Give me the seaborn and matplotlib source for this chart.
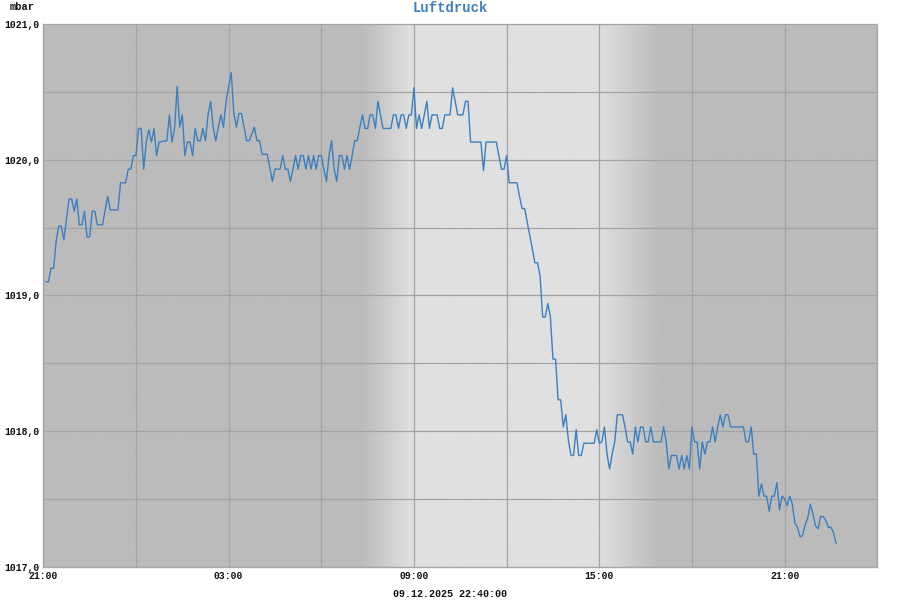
import numpy as np
import pandas as pd
import matplotlib
matplotlib.use("Agg")
import matplotlib.pyplot as plt
import matplotlib.dates as mdates
from matplotlib.ticker import FuncFormatter, MultipleLocator
import seaborn as sns

sns.set_theme(style="white")
plt.rcParams["font.family"] = ["Liberation Mono", "DejaVu Sans Mono"]

# ---------------- data ----------------
title = "Luftdruck"
unit = "mbar"
stamp = "09.12.2025 22:40:00"
start = "2025-12-08 21:00"
end = "2025-12-10 00:00"

# 5-minute slots after 21:00 (vertices)
slot = [1, 2, 3, 4, 5, 6, 7, 8, 10, 11, 12, 13, 14, 15, 16, 17, 18, 19, 20, 21, 23, 25, 26, 29, 30,
        32, 33, 34, 35, 36, 37, 38, 39, 40, 41, 42, 43, 44, 45, 48, 49, 50, 51, 52, 53, 54, 55, 56,
        57, 58, 59, 60,
        61, 62, 63, 64, 65, 66, 67, 68, 69, 70, 71, 72, 73, 74, 75, 76, 77, 79, 80, 82, 83, 84, 85,
        87, 89, 90, 92, 93, 94, 95, 96, 97, 98, 99, 100, 101, 102, 103, 104, 105, 106, 107, 108,
        109, 110, 111, 112, 113, 114, 115, 116, 117, 118, 119, 120, 121, 122, 123,
        124, 125, 126, 127, 128, 129, 130, 131, 132, 135, 136, 137, 138, 139, 140, 141, 142, 143,
        144, 145, 146, 147, 148, 149, 150, 151, 153, 154, 155, 156, 158, 159, 160, 161, 163, 164,
        165, 166, 170, 171, 172, 176, 177, 178, 179, 180, 181, 184,
        185, 186, 187, 188, 189, 190, 191, 192, 193, 194, 195, 196, 197, 198, 199, 200, 201, 202,
        203, 204, 205, 206, 207, 208, 209, 210, 214, 215, 216,
        217, 218, 219, 220, 221, 222, 223, 225, 226, 227, 228, 229, 230, 231, 232, 233, 234, 235,
        236, 237, 240, 241, 242, 243, 244, 246, 247, 248, 249, 250, 251, 252, 253, 254, 255, 256,
        257, 258, 259, 260, 261, 262, 263, 264, 265, 266,
        267, 272, 273, 274, 275, 276, 277, 278, 279, 280, 281, 282, 283, 284, 285, 286, 287, 288,
        289, 290, 291, 292, 293, 294, 295, 296, 297, 298, 299, 300, 301, 302, 303, 304, 305, 306,
        307, 308]

mbar = [1019.10, 1019.10, 1019.20, 1019.20, 1019.40, 1019.51, 1019.51, 1019.41, 1019.71, 1019.71,
        1019.62, 1019.71, 1019.52, 1019.52, 1019.62, 1019.43, 1019.43, 1019.62, 1019.62, 1019.52,
        1019.52, 1019.73, 1019.63, 1019.63, 1019.83,
        1019.83, 1019.93, 1019.93, 1020.03, 1020.03, 1020.23, 1020.23, 1019.93, 1020.13, 1020.22,
        1020.13, 1020.23, 1020.03, 1020.13, 1020.14, 1020.33, 1020.13, 1020.23, 1020.54, 1020.24,
        1020.33, 1020.03, 1020.13,
        1020.13, 1020.03, 1020.23, 1020.14,
        1020.14, 1020.23, 1020.14, 1020.33, 1020.43, 1020.24, 1020.14, 1020.24, 1020.33, 1020.24,
        1020.43, 1020.54, 1020.64, 1020.35, 1020.24, 1020.34, 1020.34, 1020.14, 1020.14, 1020.24,
        1020.14, 1020.14, 1020.04,
        1020.04, 1019.84, 1019.93, 1019.93, 1020.03, 1019.93, 1019.93, 1019.84, 1019.93, 1020.03,
        1019.93, 1020.03, 1020.03, 1019.93, 1020.03, 1019.93, 1020.03, 1019.93, 1020.03, 1020.03,
        1019.93, 1019.84, 1020.03, 1020.14, 1019.93, 1019.84, 1020.03, 1020.03, 1019.93, 1020.03,
        1019.93, 1020.03, 1020.14, 1020.14, 1020.24,
        1020.33, 1020.23, 1020.23, 1020.33, 1020.33, 1020.23, 1020.43, 1020.33, 1020.23, 1020.23,
        1020.33, 1020.33, 1020.23, 1020.33, 1020.33, 1020.23, 1020.33, 1020.33,
        1020.53, 1020.23, 1020.33, 1020.23, 1020.33, 1020.43, 1020.23, 1020.33, 1020.33, 1020.23,
        1020.23, 1020.33, 1020.33, 1020.53, 1020.43, 1020.33, 1020.33, 1020.43,
        1020.43, 1020.13, 1020.13, 1019.92, 1020.13, 1020.13, 1020.03, 1019.93, 1019.93, 1020.03,
        1019.83, 1019.83,
        1019.73, 1019.64, 1019.64, 1019.54, 1019.44, 1019.34, 1019.24, 1019.24, 1019.14, 1018.84,
        1018.84, 1018.94, 1018.84, 1018.53, 1018.53, 1018.23, 1018.23, 1018.03,
        1018.12, 1017.93, 1017.82, 1017.82, 1018.01, 1017.82, 1017.82, 1017.91, 1017.91, 1018.01,
        1017.91,
        1017.92, 1018.03, 1017.83, 1017.72, 1017.83, 1017.92, 1018.12, 1018.12, 1018.03, 1017.92,
        1017.92, 1017.83, 1018.03, 1017.92, 1018.03, 1018.03, 1017.92, 1017.92,
        1018.03, 1017.92, 1017.92, 1018.03, 1017.92, 1017.72, 1017.82, 1017.82, 1017.72, 1017.82,
        1017.72, 1017.82, 1017.72, 1018.03, 1017.92, 1017.92, 1017.72, 1017.92,
        1017.83, 1017.92, 1017.92, 1018.03, 1017.92, 1018.03, 1018.12, 1018.03, 1018.12, 1018.12,
        1018.03, 1018.03, 1017.92, 1017.92, 1018.03, 1017.83, 1017.83, 1017.52, 1017.61, 1017.52,
        1017.52, 1017.41, 1017.52, 1017.52, 1017.62, 1017.42, 1017.52, 1017.50,
        1017.45, 1017.52, 1017.46, 1017.32, 1017.29, 1017.22, 1017.23, 1017.31, 1017.36, 1017.46,
        1017.39, 1017.30, 1017.28, 1017.37, 1017.37, 1017.34, 1017.29, 1017.29,
        1017.25, 1017.17]

y_ticks = [1017.0, 1018.0, 1019.0, 1020.0, 1021.0]

# twilight bands (night -> day, day -> night)
dawn = ("2025-12-09 07:20", "2025-12-09 08:55")
dusk = ("2025-12-09 15:00", "2025-12-09 17:00")

# ---------------- figure ----------------
df = pd.DataFrame({
    "time": pd.Timestamp(start) + pd.to_timedelta(np.array(slot) * 5, unit="min"),
    "mbar": mbar,
})

fig = plt.figure(figsize=(9, 6), dpi=100)
L, R, T, B = 43.3, 877.3, 24.0, 566.7
ax = fig.add_axes([L / 900, 1 - B / 600, (R - L) / 900, (B - T) / 600])

t0 = mdates.date2num(pd.Timestamp(start))
t1 = mdates.date2num(pd.Timestamp(end))
tg = np.linspace(t0, t1, 2000)
night, day = 187 / 255, 224 / 255
d0, d1 = [mdates.date2num(pd.Timestamp(s)) for s in dawn]
e0, e1 = [mdates.date2num(pd.Timestamp(s)) for s in dusk]
shade = np.full_like(tg, night)
up = np.clip((tg - d0) / (d1 - d0), 0, 1)
down = np.clip((tg - e0) / (e1 - e0), 0, 1)
shade = night + (day - night) * up * (1 - down)
img = np.repeat(shade[None, :, None], 3, axis=2)
ax.imshow(img, extent=[t0, t1, 1017, 1021], aspect="auto", zorder=0, interpolation="bilinear")

sns.lineplot(data=df, x="time", y="mbar", ax=ax, color="#3b7fbf", linewidth=1.0, zorder=3)

ax.set_xlim(pd.Timestamp(start), pd.Timestamp(end))
ax.set_ylim(1017, 1021)
ax.set_xlabel("")
ax.set_ylabel("")

ax.xaxis.set_major_locator(mdates.HourLocator(byhour=[3, 9, 15, 21]))
ax.xaxis.set_minor_locator(mdates.HourLocator(byhour=[0, 6, 12, 18]))
ax.xaxis.set_major_formatter(mdates.DateFormatter("%H:%M"))
ax.set_yticks(y_ticks)
ax.yaxis.set_minor_locator(MultipleLocator(0.5))
ax.yaxis.set_major_formatter(FuncFormatter(lambda v, p: f"{v:.1f}".replace(".", ",")))

ax.grid(True, which="both", color="#a3a3a3", linewidth=0.9, zorder=1)
ax.set_axisbelow(False)
for gl in ax.get_xgridlines() + ax.get_ygridlines():
    gl.set_zorder(1)
ax.tick_params(axis="both", which="both", length=0)
ax.tick_params(axis="x", pad=3, labelsize=7)
ax.tick_params(axis="y", pad=3, labelsize=7)
for lab in ax.get_xticklabels() + ax.get_yticklabels():
    lab.set_fontweight("bold")
    lab.set_color("#111111")

for side in ["left", "bottom", "right"]:
    ax.spines[side].set_color("#a8a8a8")
    ax.spines[side].set_linewidth(1.0)
ax.spines["top"].set_color("#cccccc")
ax.spines["top"].set_linewidth(1.0)

fig.text(0.5, 1 - 8 / 600, title, ha="center", va="center", color="#3b7fbf",
         fontsize=10, fontweight="bold")
fig.text(10 / 900, 1 - 7 / 600, unit, ha="left", va="center", color="#111111",
         fontsize=7.5, fontweight="bold")
fig.text(0.5, 1 - 594 / 600, stamp, ha="center", va="center", color="#111111",
         fontsize=7.2, fontweight="bold")

fig.savefig("out.png", dpi=100, facecolor="white")
